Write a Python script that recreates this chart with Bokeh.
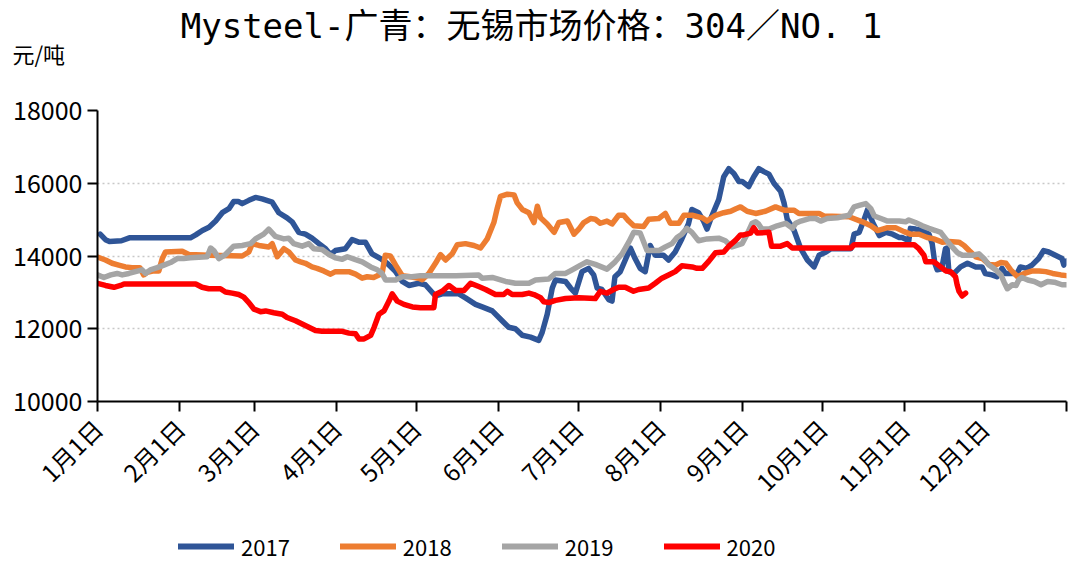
from bokeh.plotting import figure
from bokeh.models import (Range1d, FixedTicker, Legend, LegendItem, Label)
from bokeh.layouts import column
from bokeh.embed import file_html
from bokeh.resources import INLINE

# ---------------- data ----------------
title_text = "Mysteel-广青：无锡市场价格：304／NO. 1"
unit_text = "元/吨"
month_days = [0, 31, 59, 90, 120, 151, 181, 212, 243, 273, 304, 334, 365]
month_labels = ["1月1日", "2月1日", "3月1日", "4月1日", "5月1日", "6月1日",
                "7月1日", "8月1日", "9月1日", "10月1日", "11月1日", "12月1日", ""]
y_ticks = [10000, 12000, 14000, 16000, 18000]
series_names = ["2017", "2018", "2019", "2020"]
series_colors = ["#2F5597", "#ED7D31", "#A5A5A5", "#FF0000"]

days_2017 = [1, 3, 4.5, 9, 12, 35, 37, 39.5, 42, 44.5, 47, 49.5, 51.3, 53, 54.5, 57, 59.5, 62, 65.8, 68.3,
             71.4, 73.3, 75.8, 78.3, 80.8, 83.4, 85.9, 87.7, 89.6, 93.4, 95.9, 98.4, 100.9, 103.4, 106.6,
             109.1, 112.3, 114.8, 117.3, 121, 123.5, 127.3, 129.8, 136.1, 138.6, 142.4, 144.9, 148.7,
             152.4, 154.9, 157.4, 160, 163.1, 166.2, 167.5, 169.4, 171.3, 172.5, 176.3, 178.2, 180,
             182.5, 185, 186.9, 188.2, 190, 192.6, 193.8, 194.9, 196.9, 198.8, 200.7, 202.5, 204.4,
             206.3, 208.2, 210.1, 213.2, 215.1, 217.6, 220.1, 222.6, 223.9, 226.4, 228.3, 229.6, 231.4,
             234, 235.9, 237.8, 239.7, 241.6, 242.8, 245.3, 247.2, 249.1, 251, 252.9, 254.8, 257.3,
             258.6, 259.8, 262.4, 264.9, 267.4, 269.9, 271.8, 274.4, 276.3, 283.8, 285, 286.9, 288.8,
             290.1, 292, 294.5, 297, 299.5, 302, 303.1, 305.6, 306.2, 308.1, 310.6, 313.2, 314.4, 315.4,
             316.3, 318, 319.4, 320, 320.7, 322.6, 325.1, 327.7, 330.8, 333.2, 334.4, 336.9, 338.8,
             340.7, 342, 346.4, 347.6, 350, 352, 354.5, 356.4, 358.3, 360.8, 363.3, 364, 365]
vals_2017 = [14600, 14450, 14400, 14420, 14500, 14500, 14580, 14700, 14790, 14960, 15190, 15300, 15500, 15500,
             15440, 15530, 15610, 15570, 15480, 15190, 15050, 14940, 14650, 14600, 14490, 14340, 14200,
             14040, 14150, 14200, 14450, 14380, 14380, 14060, 13930, 13800, 13570, 13300, 13190, 13250,
             13210, 12900, 12960, 12960, 12850, 12670, 12600, 12490, 12220, 12040, 12000, 11820, 11770,
             11680, 11900, 12400, 13120, 13340, 13300, 13120, 12980, 13570, 13660, 13480, 13120, 13080,
             12800, 12760, 13430, 13570, 13890, 14220, 13930, 13660, 13570, 14290, 14020, 14020, 13890,
             14110, 14470, 14880, 15280, 15190, 14960, 14740, 15100, 15550, 16180, 16400, 16270, 16050,
             16050, 15910, 16180, 16400, 16320, 16250, 16000, 15780, 15460, 15010, 14700, 14200, 13890,
             13700, 14020, 14110, 14200, 14200, 14600, 14650, 15010, 15280, 14920, 14560, 14650, 14600,
             14510, 14510, 14420, 14760, 14740, 14700, 14600, 14340, 13800, 13620, 13650, 14200, 14220,
             13570, 13520, 13700, 13800, 13700, 13700, 13520, 13480, 13430, 13660, 13520, 13520, 13700,
             13660, 13750, 13930, 14150, 14110, 14020, 13930, 13750, 13860]

days_2018 = [0, 3, 5.5, 8, 10.5, 13, 16, 17.4, 18.7, 21.2, 23.1, 24.4, 25.6, 31.9, 34.4, 42, 54.5, 57, 58.3,
             60.8, 64.5, 65.8, 67.7, 70.2, 72.1, 74.6, 76.5, 78.3, 80.8, 82.7, 85.2, 87.8, 89.6, 94.7,
             97.2, 99.7, 101.6, 104, 107.2, 108.4, 110.3, 112.3, 114.8, 117.9, 121, 122.3, 124.8, 127.3,
             129.2, 131.1, 133.6, 135.5, 138.6, 141.8, 144.3, 146.8, 149.3, 150.6, 151.8, 154.4, 156.9,
             158.1, 160, 162.5, 164.4, 165.7, 166.9, 169.4, 172, 173.8, 177, 179.5, 181.3, 183.2, 185.7,
             187.5, 189.4, 191.9, 193.8, 196.3, 198.2, 200.1, 202, 205.7, 207.6, 211.4, 213.9, 215.8,
             219, 220.9, 224, 227.8, 229.6, 232.8, 235.9, 238.5, 240.5, 242.2, 244.7, 247.9, 251.6,
             255.4, 258.6, 262.4, 264.2, 271.8, 273.6, 283.1, 288.1, 291.3, 293.8, 297.6, 300.6, 303.8,
             306.2, 309.5, 312.5, 315, 318.2, 320.7, 324.5, 326.4, 328.3, 330.8, 333.3, 335.8, 338.3,
             340.3, 342.2, 344, 346.6, 349.1, 352.2, 354.7, 357.2, 359.8, 362.9, 365]
vals_2018 = [13970, 13890, 13800, 13750, 13700, 13680, 13680, 13480, 13550, 13590, 13590, 13930, 14110, 14130,
             14040, 14020, 14000, 14110, 14340, 14290, 14250, 14340, 13980, 14200, 14110, 13890, 13840,
             13800, 13700, 13660, 13590, 13500, 13570, 13570, 13500, 13390, 13430, 13410, 13520, 14020,
             14000, 13750, 13460, 13430, 13390, 13350, 13520, 13800, 14040, 13890, 14060, 14310, 14340,
             14290, 14220, 14470, 14920, 15320, 15640, 15700, 15680, 15460, 15280, 15190, 14920, 15370,
             15050, 14880, 14650, 14920, 14960, 14600, 14740, 14920, 15030, 15010, 14900, 14960, 14880,
             15120, 15120, 14960, 14830, 14810, 15010, 15030, 15170, 14900, 14900, 15120, 15120, 15050,
             14960, 15120, 15190, 15230, 15300, 15350, 15230, 15170, 15230, 15350, 15260, 15260, 15170,
             15170, 15100, 15080, 14940, 14830, 14700, 14780, 14780, 14670, 14600, 14600, 14510, 14470,
             14380, 14400, 14380, 14290, 14150, 13980, 13930, 13770, 13750, 13820, 13800, 13620, 13430,
             13520, 13590, 13590, 13570, 13520, 13480, 13460]

days_2019 = [0, 2.4, 5, 7.4, 9.3, 11.8, 14.3, 16.8, 18.1, 19.9, 22.5, 25, 27.5, 30, 32.5, 35, 41.3, 42.6,
             43.8, 45.7, 48.2, 51.3, 54.5, 57.6, 59.5, 62.6, 64.5, 67, 70.2, 72, 73.9, 77.1, 79.6, 81.5,
             84.6, 87.2, 89.6, 92.2, 94.1, 97.2, 99.7, 102.9, 105.4, 107.2, 108.5, 112.3, 114.8, 118.5,
             121.6, 135, 143.6, 144.9, 148.7, 153.7, 157.4, 162.5, 165, 170, 172.5, 176.3, 178.8, 182,
             184.4, 187.5, 191.9, 195, 197.6, 200.1, 202, 204.4, 207, 211.4, 213.9, 216.4, 218.3, 220.1,
             222, 223.9, 226.4, 229.6, 234, 236.5, 239, 242.8, 244.7, 246.6, 247.9, 249, 250.3, 252.9,
             256, 259.2, 261.8, 263, 264.9, 268.1, 270.5, 272.4, 274.9, 278.7, 283.1, 285, 286.9, 289.4,
             291.3, 292.6, 295.1, 297.6, 302, 304.4, 305.6, 308.1, 310.7, 313.2, 315.7, 317.6, 319.5,
             321.4, 323.9, 325.8, 329.5, 332, 333.9, 335.8, 338.3, 340.3, 341.5, 342.7, 344.6, 346, 347,
             348.2, 350.4, 352.9, 355.4, 357.9, 360.4, 363.3, 365]
vals_2019 = [13480, 13410, 13480, 13520, 13480, 13520, 13570, 13620, 13520, 13620, 13680, 13750, 13820, 13930,
             13930, 13950, 13980, 14220, 14150, 13930, 14040, 14270, 14290, 14340, 14470, 14600, 14740,
             14540, 14470, 14490, 14340, 14270, 14340, 14200, 14180, 14040, 13950, 13910, 13980, 13900,
             13840, 13700, 13620, 13520, 13340, 13340, 13430, 13430, 13460, 13460, 13480, 13390, 13410,
             13300, 13250, 13250, 13340, 13370, 13520, 13520, 13620, 13750, 13840, 13770, 13640, 13840,
             14060, 14380, 14650, 14630, 14150, 14150, 14250, 14340, 14510, 14600, 14760, 14650, 14420,
             14470, 14490, 14420, 14250, 14340, 14600, 14900, 14940, 14880, 14740, 14740, 14830, 14900,
             14760, 14900, 14960, 15030, 15030, 14960, 15030, 15050, 15120, 15350, 15390, 15440, 15300,
             15100, 15030, 14960, 14960, 14940, 14990, 14920, 14830, 14760, 14700, 14650, 14470, 14290,
             14090, 14020, 14020, 14060, 13930, 13750, 13620, 13480, 13280, 13100, 13210, 13190, 13340,
             13410, 13340, 13300, 13210, 13300, 13280, 13210, 13210]

days_2020 = [0, 3, 6.2, 8.7, 10, 37, 39.4, 41.9, 46.3, 48.2, 50.7, 53.2, 55.1, 57, 58.9, 61.4, 63.3, 66.4,
             69.6, 71.4, 74.6, 77.1, 79.6, 82.1, 84.6, 92.2, 94.7, 97.2, 98.5, 100.4, 102.9, 104.2, 106,
             107.9, 109.8, 111, 112.9, 115.4, 118.6, 121.7, 126.7, 127.3, 129.8, 132.4, 134.9, 138,
             140.5, 143.6, 146.2, 149.9, 153, 154.4, 156.2, 160, 162.5, 164.4, 166.9, 168.1, 170, 172.5,
             176.3, 181.3, 187.5, 189.4, 191.9, 194.4, 196.3, 198.8, 201.9, 203.8, 207.6, 210.1, 212.6,
             215.1, 217.6, 220.1, 224, 225.8, 227.8, 230.3, 232.8, 235.9, 237.8, 240.3, 242.2, 243.4,
             246, 247.2, 248.5, 252.9, 253.9, 257.3, 259.8, 261.7, 283.8, 285, 307.6, 309.4, 311.3, 312,
             315.1, 317.6, 319.5, 321.3, 323.2, 323.8, 324.5, 325.7, 327]
vals_2020 = [13250, 13190, 13140, 13190, 13230, 13230, 13140, 13100, 13100, 13010, 12980, 12940, 12870, 12720,
             12540, 12470, 12490, 12440, 12400, 12310, 12220, 12130, 12040, 11950, 11930, 11930, 11880,
             11860, 11720, 11720, 11820, 12040, 12400, 12490, 12760, 12960, 12760, 12670, 12600, 12580,
             12580, 12940, 13030, 13190, 13050, 13050, 13250, 13160, 13080, 12940, 12940, 13030, 12940,
             12940, 12980, 12940, 12850, 12740, 12720, 12780, 12830, 12850, 12830, 13030, 12980, 13080,
             13140, 13140, 13030, 13080, 13120, 13250, 13390, 13480, 13570, 13730, 13700, 13660, 13660,
             13860, 14090, 14110, 14270, 14430, 14580, 14580, 14630, 14780, 14630, 14650, 14270, 14270,
             14340, 14220, 14220, 14310, 14310, 14200, 14020, 13840, 13840, 13700, 13590, 13570, 13430,
             13210, 13030, 12900, 12980]

all_days = [days_2017, days_2018, days_2019, days_2020]
all_vals = [vals_2017, vals_2018, vals_2019, vals_2020]

FONT = "Noto Sans CJK SC"
W = 1070
H_TOP, H_MAIN, H_BOT = 88, 425, 53

def bare(h):
    f = figure(width=W, height=h, output_backend="svg", toolbar_location=None,
               x_range=Range1d(0, W), y_range=Range1d(0, h),
               x_axis_type=None, y_axis_type=None, title=None,
               min_border=0, min_border_left=0, min_border_right=0,
               min_border_top=0, min_border_bottom=0, frame_align=False)
    f.outline_line_color = None
    f.grid.grid_line_color = None
    f.background_fill_color = "white"
    f.border_fill_color = "white"
    return f

# ---------------- header (title + unit) ----------------
top = bare(H_TOP)
top.add_layout(Label(x=531, y=H_TOP - 25, text=title_text, text_align="center", text_baseline="middle",
                     text_font="DejaVu Sans Mono, Noto Sans CJK SC", text_font_size="34px",
                     text_color="black"))
top.add_layout(Label(x=12, y=H_TOP - 52, text=unit_text, text_align="left", text_baseline="middle",
                     text_font=FONT, text_font_size="22px", text_color="black"))

# ---------------- main chart ----------------
p = figure(width=W, height=H_MAIN, output_backend="svg", toolbar_location=None,
           x_range=Range1d(0, 365), y_range=Range1d(10000, 18000), title=None,
           min_border_left=97, min_border_right=4, min_border_top=22, min_border_bottom=108,
           frame_align=False)
p.outline_line_color = None
p.background_fill_color = "white"
p.border_fill_color = "white"

for d, v, c in zip(all_days, all_vals, series_colors):
    p.line(d, v, line_color=c, line_width=5.5, line_join="round", line_cap="round")

xa = p.xaxis[0]
xa.ticker = FixedTicker(ticks=month_days)
xa.major_label_overrides = {d: lab for d, lab in zip(month_days, month_labels)}
xa.major_label_orientation = 0.785398
xa.major_label_text_font = FONT
xa.major_label_text_font_size = "24px"
xa.major_label_text_color = "black"
xa.axis_line_color = "black"
xa.axis_line_width = 2
xa.major_tick_line_color = "black"
xa.major_tick_line_width = 2
xa.major_tick_in = 0
xa.major_tick_out = 10
xa.minor_tick_line_color = None
xa.major_label_standoff = 12

ya = p.yaxis[0]
ya.ticker = FixedTicker(ticks=y_ticks)
ya.major_label_text_font = FONT
ya.major_label_text_font_size = "25px"
ya.major_label_text_color = "black"
ya.axis_line_color = "black"
ya.axis_line_width = 2
ya.major_tick_line_color = "black"
ya.major_tick_line_width = 2
ya.major_tick_in = 0
ya.major_tick_out = 10
ya.minor_tick_line_color = None
ya.major_label_standoff = 5

p.xgrid.grid_line_color = None
p.ygrid.grid_line_color = "#C8C8C8"
p.ygrid.grid_line_dash = "2 3"
p.ygrid.grid_line_width = 1.5

# ---------------- legend strip ----------------
bot = bare(H_BOT)
# legend swatches: renderers whose points sit outside the visible range
leg_renderers = [bot.line([-200, -100], [-200, -200], line_color=c, line_width=6, line_cap="round")
                 for c in series_colors]
legend = Legend(items=[LegendItem(label=n, renderers=[r]) for n, r in zip(series_names, leg_renderers)],
                orientation="horizontal", location=(178, 4))
legend.label_text_font = FONT
legend.label_text_font_size = "22px"
legend.label_text_color = "black"
legend.glyph_width = 56
legend.glyph_height = 22
legend.label_height = 22
legend.label_standoff = 7
legend.spacing = 50
legend.padding = 0
legend.margin = 0
legend.border_line_color = None
legend.background_fill_alpha = 0
bot.add_layout(legend)

layout = column(top, p, bot, spacing=0)
open("out.html", "w").write(file_html(layout, INLINE))
